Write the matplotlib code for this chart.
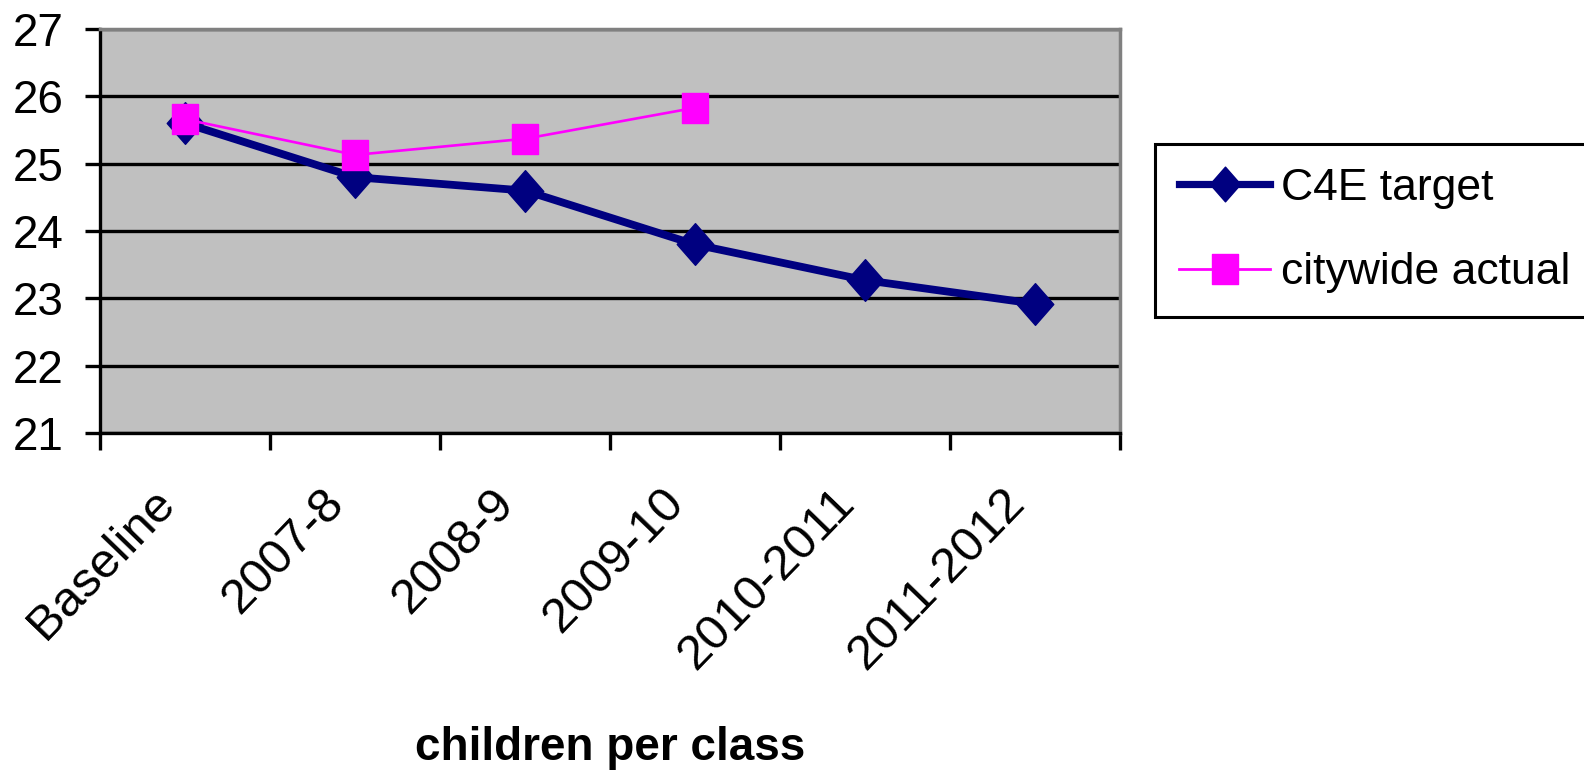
import numpy as np
import matplotlib
matplotlib.use("Agg")
import matplotlib.pyplot as plt
from matplotlib.path import Path
from matplotlib.lines import Line2D
import matplotlib.transforms as mtransforms

plt.rcParams['font.family'] = ['Liberation Sans', 'DejaVu Sans']

# ---- data ----
categories = ["Baseline", "2007-8", "2008-9", "2009-10", "2010-2011", "2011-2012"]
c4e_target = [25.6, 24.8, 24.6, 23.8, 23.27, 22.92]
citywide_actual = [25.66, 25.13, 25.37, 25.83]
y_ticks = [21, 22, 23, 24, 25, 26, 27]
series_names = ["C4E target", "citywide actual"]
x_title = "children per class"

W, H = 1584, 772
fig = plt.figure(figsize=(W / 100, H / 100), dpi=100)
ax = fig.add_axes([100 / W, 1 - 433 / H, 1020 / W, 404 / H])
ax.set_facecolor('#C0C0C0')

diamond = Path([(0, 0.57), (0.5, 0), (0, -0.57), (-0.5, 0), (0, 0.57)],
               [Path.MOVETO, Path.LINETO, Path.LINETO, Path.LINETO, Path.CLOSEPOLY])
square = Path([(-0.435, -0.5), (0.435, -0.5), (0.435, 0.5), (-0.435, 0.5), (-0.435, -0.5)],
              [Path.MOVETO, Path.LINETO, Path.LINETO, Path.LINETO, Path.CLOSEPOLY])

x = np.arange(len(categories))
ax.plot(x, c4e_target, color='#000080', lw=5.6, marker=diamond, ms=30,
        mfc='#000080', mec='#000080', mew=1, zorder=3, solid_joinstyle='round')
ax.plot(x[:len(citywide_actual)], citywide_actual, color='#FF00FF', lw=1.9,
        marker=square, ms=22, mfc='#FF00FF', mec='#FF00FF', mew=1, zorder=4)

ax.set_xlim(-0.5, len(categories) - 0.5)
ax.set_ylim(y_ticks[0], y_ticks[-1])
ax.set_yticks(y_ticks)
ax.set_yticklabels([str(v) for v in y_ticks], fontsize=33)
ax.tick_params(axis='y', length=11, width=2.4, direction='out', pad=15, color='black')

ax.set_xticks(x)
ax.set_xticks(np.arange(-0.5, len(categories), 1.0), minor=True)
ax.set_xticklabels(categories, fontsize=35.5, rotation=46, ha='right', va='top',
                   rotation_mode='anchor')
ax.tick_params(axis='x', which='major', length=0, pad=34)
ax.tick_params(axis='x', which='minor', length=12, width=2.4, direction='out', color='black')
off = mtransforms.ScaledTranslation(-34 / 100, 0, fig.dpi_scale_trans)
for lab in ax.get_xticklabels():
    lab.set_transform(lab.get_transform() + off)

ax.set_axisbelow(True)
ax.yaxis.grid(True, color='black', lw=2.4)
for s in ['left', 'bottom']:
    ax.spines[s].set_color('black')
    ax.spines[s].set_linewidth(2.4)
for s in ['top', 'right']:
    ax.spines[s].set_color('#808080')
    ax.spines[s].set_linewidth(2.5)

fig.text(610 / W, 1 - 760 / H, x_title, fontsize=33, fontweight='bold',
         ha='center', va='baseline')

handles = [
    Line2D([], [], color='#000080', lw=5.2, marker=diamond, ms=25, mfc='#000080', mec='#000080'),
    Line2D([], [], color='#FF00FF', lw=2, marker=square, ms=22, mfc='#FF00FF', mec='#FF00FF'),
]
leg = fig.legend(handles, series_names, loc='upper left',
                 bbox_to_anchor=(1155 / W, 1 - 144 / H), borderaxespad=0,
                 fontsize=32, frameon=True, fancybox=False, framealpha=1,
                 edgecolor='black', handlelength=2.05, handletextpad=0.25,
                 borderpad=0.54, labelspacing=0.97)
leg.get_frame().set_linewidth(2.2)

fig.savefig('out.png', dpi=100, facecolor='white')
